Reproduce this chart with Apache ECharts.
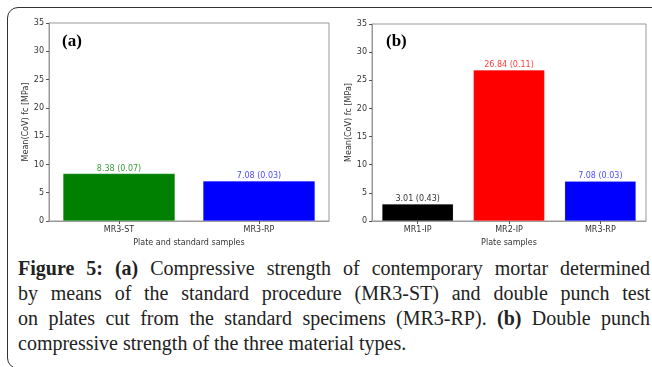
<!DOCTYPE html>
<html>
<head>
<meta charset="utf-8">
<script src="https://cdn.jsdelivr.net/npm/echarts@6/dist/echarts.min.js"></script>
<style>
  html, body { margin: 0; padding: 0; background: #fff; }
  .figure {
    position: relative;
    width: 652px;
    height: 367px;
    overflow: hidden;
  }
  .frame {
    position: absolute;
    left: 7px;
    top: 7px;
    width: 720px;
    height: 360px;
    border: 1.5px solid #333;
    border-radius: 11px;
  }
  #chart {
    position: absolute;
    left: 0;
    top: 0;
    width: 652px;
    height: 252px;
  }
  .caption {
    position: absolute;
    left: 18px;
    top: 256px;
    width: 632px;
    font-family: "Liberation Serif", serif;
    font-size: 20px;
    line-height: 25px;
    color: #222;
  }
  .caption .line { text-align: justify; text-align-last: justify; white-space: nowrap; }
  .caption .line.last { text-align-last: left; }
</style>
</head>
<body>
<div class="figure">
  <div class="frame"></div>
  <div id="chart"></div>
  <div class="caption">
    <div class="line"><b>Figure 5: (a)</b> Compressive strength of contemporary mortar determined</div>
    <div class="line">by means of the standard procedure (MR3-ST) and double punch test</div>
    <div class="line">on plates cut from the standard specimens (MR3-RP). <b>(b)</b> Double punch</div>
    <div class="line last">compressive strength of the three material types.</div>
  </div>
</div>
<script>
  // panel (a): plate and standard samples
  const catsA = ['MR3-ST', 'MR3-RP'];
  const meanA = [8.38, 7.08];
  const covA = [0.07, 0.03];
  // panel (b): plate samples
  const catsB = ['MR1-IP', 'MR2-IP', 'MR3-RP'];
  const meanB = [3.01, 26.84, 7.08];
  const covB = [0.43, 0.11, 0.03];
  // y axis
  const yMin = 0, yMax = 35, yStep = 5;

  const barColorsA = ['#008000', '#0000ff'];
  const textColorsA = ['#3a9f3a', '#4d4dff'];
  const barColorsB = ['#000000', '#ff0000', '#0000ff'];
  const textColorsB = ['#333333', '#ff4040', '#4d4dff'];

  const FONT = 'DejaVu Sans';
  const AXIS_LABEL = { fontFamily: FONT, fontSize: 8, color: '#333' };

  function yAxis(gridIndex) {
    return {
      type: 'value',
      gridIndex: gridIndex,
      min: yMin,
      max: yMax,
      interval: yStep,
      name: 'Mean(CoV) fc [MPa]',
      nameLocation: 'middle',
      nameGap: 17,
      nameTextStyle: { fontFamily: FONT, fontSize: 8, color: '#333' },
      axisLine: { show: true, lineStyle: { color: '#999', width: 1 } },
      axisTick: { show: true, length: 3, lineStyle: { color: '#555' } },
      splitLine: { show: false },
      axisLabel: { ...AXIS_LABEL, margin: 5 }
    };
  }

  function xAxis(gridIndex, cats, name) {
    return {
      type: 'category',
      gridIndex: gridIndex,
      data: cats,
      name: name,
      nameLocation: 'middle',
      nameGap: 18,
      nameTextStyle: { fontFamily: FONT, fontSize: 8, color: '#333' },
      axisLine: { show: true, lineStyle: { color: '#999', width: 1 } },
      axisTick: { show: true, alignWithLabel: true, length: 3, lineStyle: { color: '#555' } },
      axisLabel: { ...AXIS_LABEL, margin: 5 }
    };
  }

  function barSeries(idx, cats, means, covs, barColors, textColors, gap) {
    return {
      type: 'bar',
      xAxisIndex: idx,
      yAxisIndex: idx,
      barCategoryGap: gap,
      data: means.map((v, i) => ({
        value: v,
        itemStyle: { color: barColors[i], borderColor: 'rgba(255,255,255,0.35)', borderWidth: 0.5 },
        label: {
          show: true,
          position: 'top',
          distance: 1,
          formatter: v.toFixed(2) + ' (' + covs[i].toFixed(2) + ')',
          fontFamily: FONT,
          fontSize: 8,
          color: textColors[i]
        }
      }))
    };
  }

  const myChart = echarts.init(document.getElementById('chart'), null, { renderer: 'canvas' });
  const option = {
    animation: false,
    grid: [
      { left: 49, top: 23, width: 280, height: 199, show: true, borderColor: '#999', borderWidth: 1, backgroundColor: '#fff' },
      { left: 372, top: 24, width: 274, height: 198, show: true, borderColor: '#999', borderWidth: 1, backgroundColor: '#fff' }
    ],
    xAxis: [
      xAxis(0, catsA, 'Plate and standard samples'),
      xAxis(1, catsB, 'Plate samples')
    ],
    yAxis: [yAxis(0), yAxis(1)],
    graphic: [
      { type: 'text', left: 62, top: 33, style: { text: '(a)', font: 'bold 17px "Liberation Serif"', fill: '#000' } },
      { type: 'text', left: 386, top: 33, style: { text: '(b)', font: 'bold 17px "Liberation Serif"', fill: '#000' } }
    ],
    series: [
      barSeries(0, catsA, meanA, covA, barColorsA, textColorsA, '20%'),
      barSeries(1, catsB, meanB, covB, barColorsB, textColorsB, '22%')
    ]
  };
  myChart.setOption(option);
</script>
</body>
</html>
